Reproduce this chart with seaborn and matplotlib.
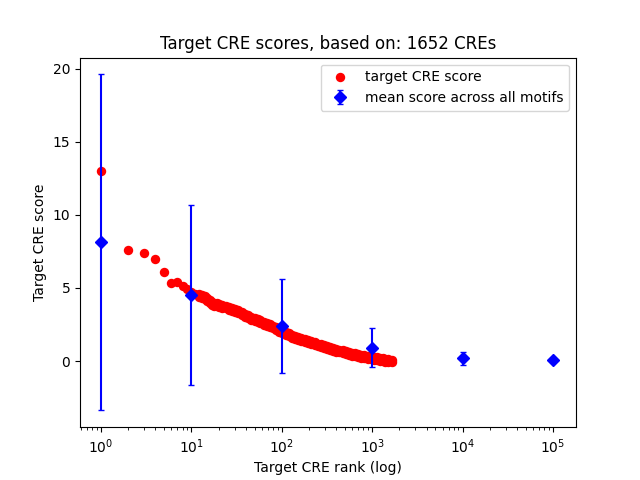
import numpy as np
import pandas as pd
import matplotlib
matplotlib.use("Agg")
import matplotlib.pyplot as plt
import seaborn as sns

# target CRE scores
# first ranks are separate dots
top_rank = [1, 2, 3, 4, 5, 6, 7, 8, 9, 10, 11]
top_score = [13.0, 7.6, 7.4, 7.0, 6.1, 5.35, 5.38, 5.1, 4.95, 4.7, 4.6]

# further on the dots merge into a band: upper and lower edge of the band
band_rank = [12, 13, 14, 15, 16, 17, 18, 19, 20, 22, 24, 26, 28, 30, 33, 36, 39, 42,
             46, 50, 54, 58, 63, 68, 74, 80, 87, 94, 100, 110, 120, 130, 140, 150, 165,
             180, 195, 210, 230, 250, 270, 290, 315, 340, 370, 400, 430, 470, 510, 550,
             600, 650, 700, 760, 820, 890, 960, 1040, 1120, 1210, 1300, 1400, 1510, 1652]
band_hi = [4.6, 4.52, 4.42, 4.3, 4.2, 4.05, 4.0, 3.96, 3.92, 3.86, 3.8, 3.72, 3.65, 3.58,
           3.48, 3.35, 3.22, 3.12, 3.02, 2.94, 2.86, 2.78, 2.7, 2.62, 2.52, 2.43, 2.32,
           2.22, 2.12, 2.0, 1.9, 1.8, 1.72, 1.65, 1.56, 1.48, 1.41, 1.35, 1.28, 1.2,
           1.14, 1.08, 1.02, 0.96, 0.9, 0.84, 0.79, 0.73, 0.69, 0.64, 0.58, 0.53, 0.48,
           0.43, 0.39, 0.35, 0.31, 0.28, 0.25, 0.22, 0.19, 0.16, 0.12, 0.06]
band_lo = [4.4, 4.32, 4.22, 4.1, 4.0, 3.85, 3.8, 3.76, 3.72, 3.66, 3.6, 3.52, 3.45, 3.38,
           3.28, 3.15, 3.02, 2.92, 2.82, 2.74, 2.66, 2.58, 2.5, 2.42, 2.32, 2.23, 2.12,
           2.02, 1.92, 1.8, 1.7, 1.6, 1.52, 1.45, 1.36, 1.28, 1.21, 1.15, 1.08, 1.0,
           0.94, 0.88, 0.82, 0.76, 0.7, 0.64, 0.59, 0.53, 0.49, 0.44, 0.38, 0.33, 0.28,
           0.23, 0.19, 0.15, 0.11, 0.08, 0.05, 0.02, -0.01, -0.04, -0.06, -0.06]

# mean score across all motifs at log-spaced ranks
motif_rank = [1, 10, 100, 1000, 10000, 100000]
motif_mean = [8.15, 4.52, 2.4, 0.9, 0.2, 0.05]
motif_err = [11.5, 6.15, 3.22, 1.33, 0.45, 0.0]

df = pd.DataFrame({"rank": top_rank + band_rank + band_rank,
                   "score": top_score + band_hi + band_lo})

fig, ax = plt.subplots(figsize=(6.4, 4.8), dpi=100)

sns.scatterplot(data=df, x="rank", y="score", color="red", s=46, linewidth=0,
                ax=ax, label="target CRE score", zorder=2)
ax.errorbar(motif_rank, motif_mean, yerr=motif_err, fmt="D", color="blue",
            capsize=2.5, zorder=3, label="mean score across all motifs")

ax.set_xscale("log")
ax.set_xlim(0.586, 10 ** 5.254)
ax.set_ylim(-4.52, 20.75)
ax.set_yticks([0, 5, 10, 15, 20])
ax.set_title("Target CRE scores, based on: 1652 CREs")
ax.set_xlabel("Target CRE rank (log)")
ax.set_ylabel("Target CRE score")

h, l = ax.get_legend_handles_labels()
order = [l.index("target CRE score"), l.index("mean score across all motifs")]
ax.legend([h[i] for i in order], [l[i] for i in order], loc="upper right")

plt.savefig("out.png", dpi=100)
